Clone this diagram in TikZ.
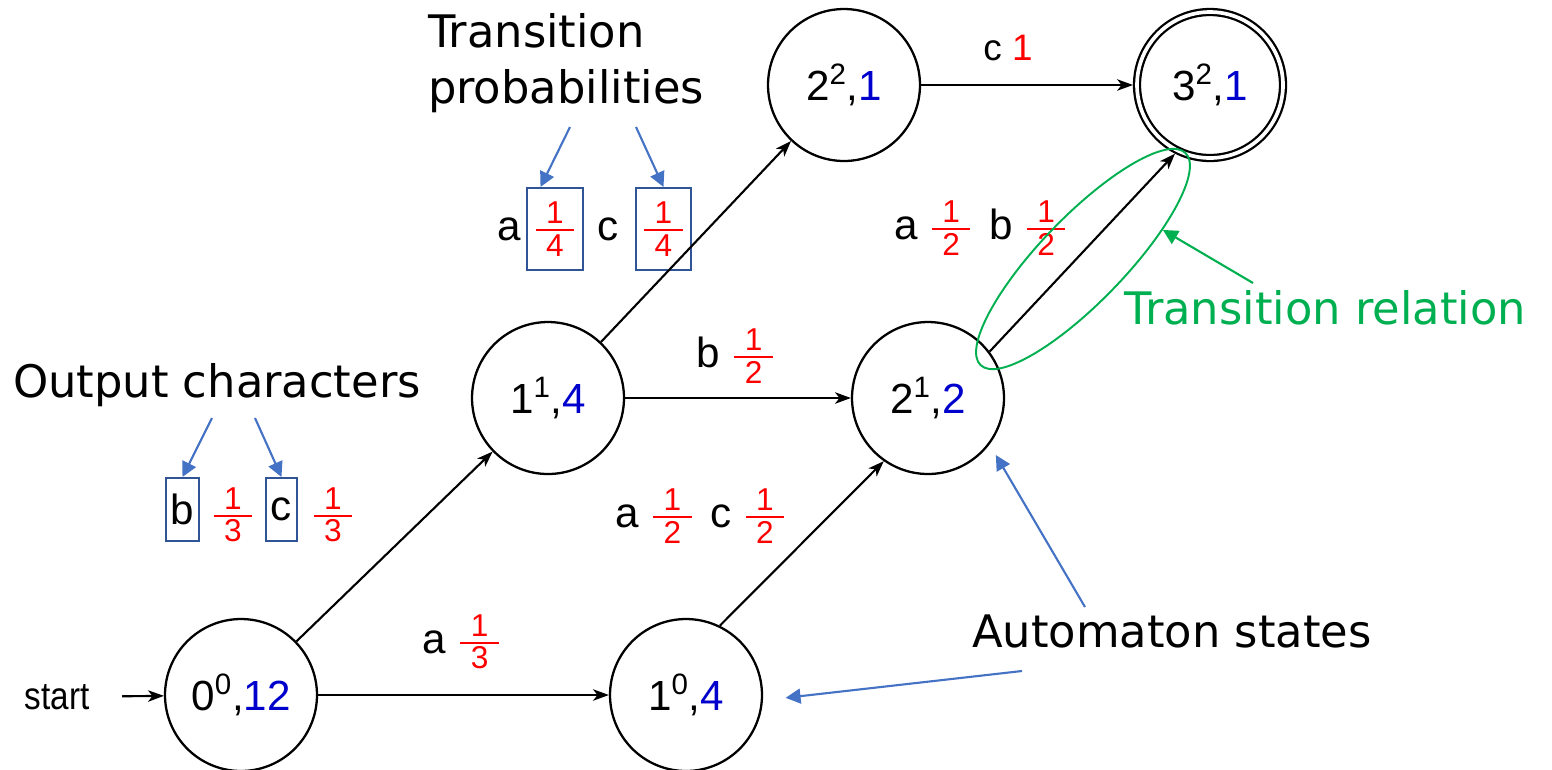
\documentclass[tikz,border=0pt]{standalone}
\usepackage{amsmath}
\usepackage{fontspec}
\setmainfont{Liberation Sans}
\newfontfamily\notefont{DejaVu Sans}
\usetikzlibrary{arrows.meta,shapes.geometric}

\definecolor{pred}{RGB}{255,0,0}
\definecolor{cblue}{RGB}{0,0,204}
\definecolor{noteblue}{RGB}{68,114,196}
\definecolor{boxblue}{RGB}{47,85,151}
\definecolor{relgreen}{RGB}{0,176,80}

% red probability fraction, and a state label n^k,count
\newcommand{\prb}[2]{\textcolor{pred}{$\genfrac{}{}{1pt}{1}%
  {\hbox{\fontsize{18}{18}\selectfont\kern6pt#1\kern6pt}}{\hbox{\fontsize{18}{18}\selectfont#2}}$}}
\newcommand{\stl}[3]{#1\textsuperscript{#2},\textcolor{cblue}{#3}}

\begin{document}
\begin{tikzpicture}[x=0.02cm,y=-0.02cm]
\tikzstyle{stnode}=[circle,draw,line width=1.3pt,minimum size=3.04cm,inner sep=0pt,font=\fontsize{24}{28}\selectfont]
\tikzstyle{final}=[stnode,double,double distance=2.1pt,minimum size=2.92cm,outer sep=2.3pt]
\tikzstyle{lab}=[inner sep=0pt,font=\fontsize{24}{28}\selectfont]
\tikzstyle{hl}=[draw=boxblue,line width=1.2pt]
\tikzstyle{note}=[inner sep=0pt,font=\notefont\fontsize{25.5}{31.7}\selectfont]
\tikzstyle{trans}=[-{Stealth[length=9pt,width=6.5pt,inset=2.5pt]},line width=1.2pt]
\tikzstyle{ptr}=[-{Triangle[length=8.5pt,width=8.5pt]},line width=1.2pt,noteblue]
\useasboundingbox (0,0) rectangle (1552,769);

\draw
node[stnode](q00)at(241,695){\stl{0}{0}{12}}
node[stnode](q10)at(686,695){\stl{1}{0}{4}}
node[stnode](q11)at(548,398){\stl{1}{1}{4}}
node[stnode](q21)at(928,398){\stl{2}{1}{2}}
node[stnode](q22)at(844,85){\stl{2}{2}{1}}
node[final](q32)at(1210,85){\stl{3}{2}{1}}
node[lab,font={\fontsize{22}{26}\selectfont\addfontfeature{FakeStretch=0.86}}](start)at(57,697){start};

\draw
node[lab](la)at(462,642){a\ \prb{1}{3}}
node[lab](lb)at(736,356){b\ \prb{1}{2}}
node[lab](lac)at(701,516){a\ \prb{1}{2}\hspace{.4em}c\ \prb{1}{2}}
node[lab](lab2)at(981,228){a\ \prb{1}{2}\hspace{.4em}b\ \prb{1}{2}}
node[lab,font=\fontsize{21}{25}\selectfont](lc)at(1008,48){c \textcolor{pred}{1}}
node[lab](oa)at(509,229){a}
node[lab,hl,minimum width=1.12cm,minimum height=1.64cm](pa)at(555,229){\prb{1}{4}}
node[lab](oc)at(608,229){c}
node[lab,hl,minimum width=1.1cm,minimum height=1.64cm](pc)at(663.5,229){\prb{1}{4}}
node[lab,hl,minimum width=.66cm,minimum height=1.26cm](cb)at(182.5,509.5){b}
node[lab](pb)at(233,515){\prb{1}{3}}
node[lab,hl,minimum width=.62cm,minimum height=1.26cm](cc)at(281.5,509.5){c}
node[lab](pcc)at(333,515){\prb{1}{3}};

\node[note,align=left](tprob)at(566,63){Transition\\probabilities};
\node[note](ochar)at(217,385){Output characters};
\node[note](astates)at(1172,631){Automaton states};
\node[note,text=relgreen](trel)at(1325,308){Transition relation};
\node[draw=relgreen,line width=1.1pt,ellipse,rotate=46,minimum width=5.9cm,minimum height=1.7cm,inner sep=0pt](rel)at(1083,259){};

\draw[trans,shorten <=18.5pt](start)--(q00);
\draw[trans](q00)--(q10);
\draw[trans](q00)--(q11);
\draw[trans](q11)--(q21);
\draw[trans](q11)--(q22);
\draw[trans](q10.64)--(q21.235);
\draw[trans](q21.37)--(q32.243);
\draw[trans](q22)--(q32);

\coordinate (tp1) at (570,127);
\coordinate (tp2) at (636,127);
\coordinate (oc1) at (212,418);
\coordinate (oc2) at (255,418);
\coordinate (as1) at (1085,607);
\coordinate (as2) at (1022,671);
\coordinate (tr1) at (1253,283);
\draw[ptr](tp1)--(pa.109);
\draw[ptr](tp2)--(pc.north);
\draw[ptr](oc1)--(cb.north);
\draw[ptr](oc2)--(cc.north);
\draw[ptr,shorten >=7pt](as1)--(q21.-37);
\draw[ptr,shorten >=13pt](as2)--(q10.-4);
\draw[ptr,relgreen](tr1)--(rel.-26);
\end{tikzpicture}
\end{document}
